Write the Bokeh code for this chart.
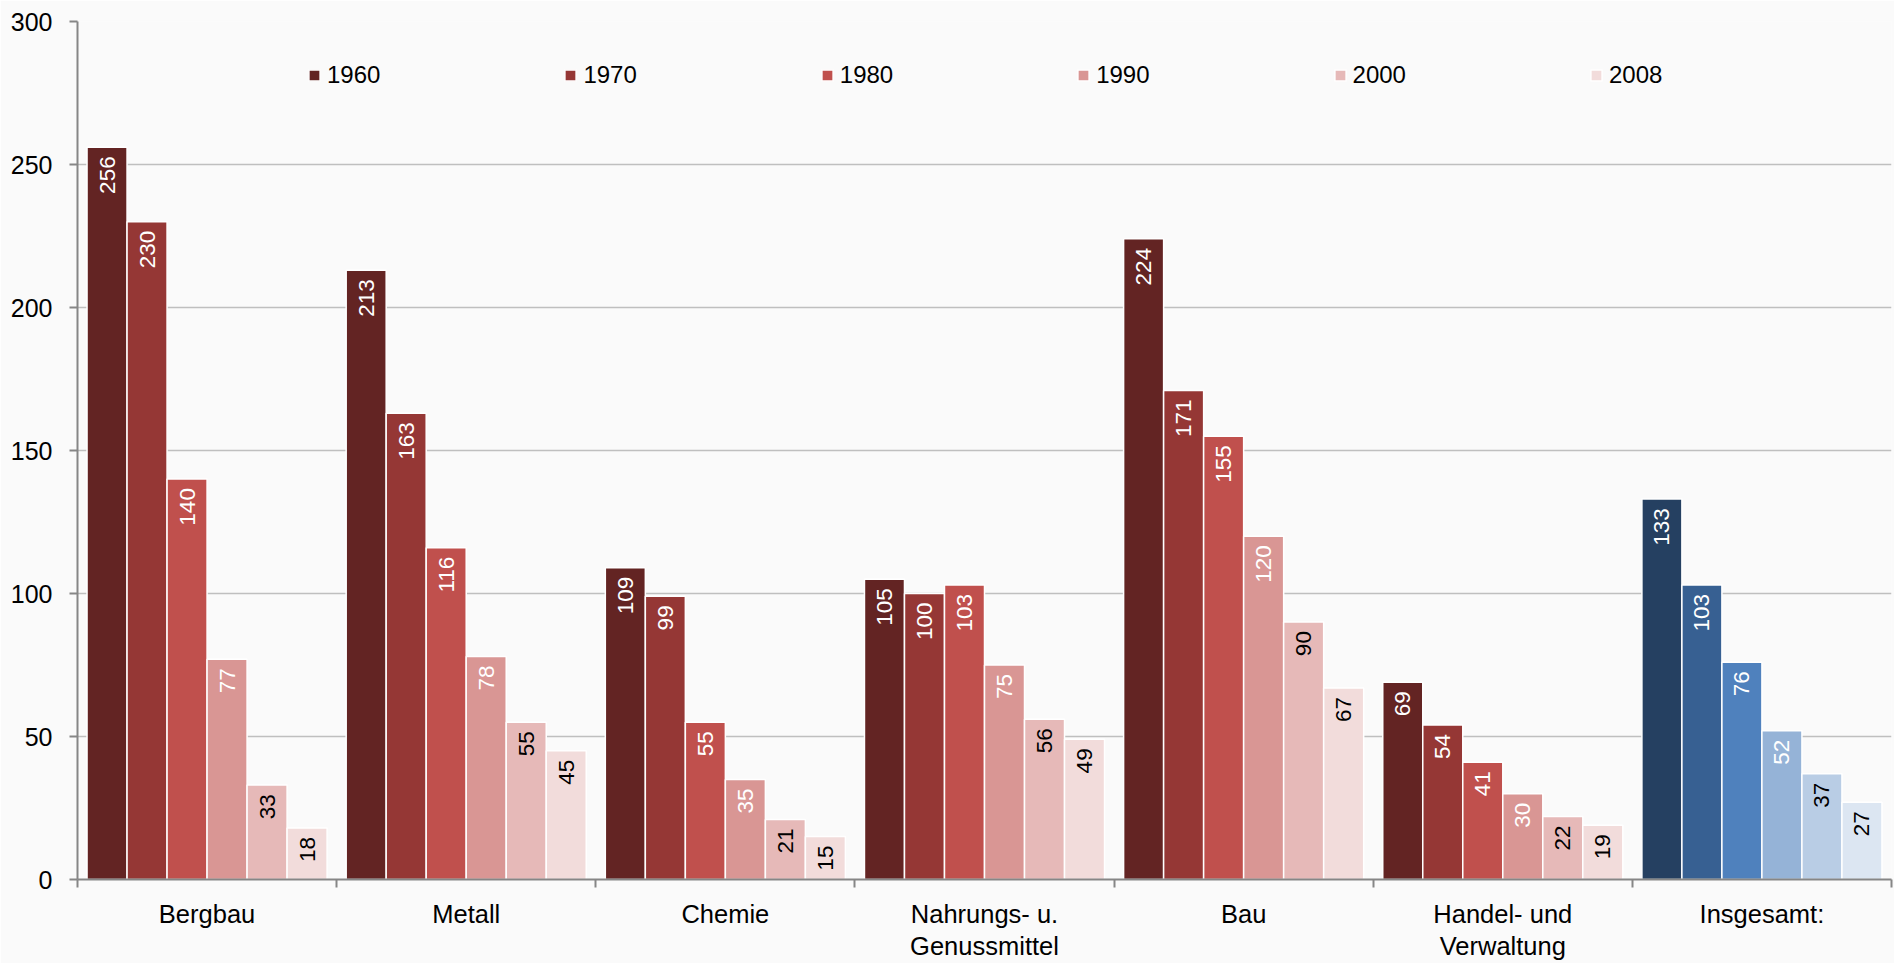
import numpy as np
from bokeh.plotting import figure
from bokeh.models import ColumnDataSource, Range1d, FixedTicker, Legend, LegendItem
from bokeh.core.properties import value
from bokeh.embed import file_html
from bokeh.resources import INLINE

categories = ["Bergbau", "Metall", "Chemie", "Nahrungs- u.\nGenussmittel", "Bau",
              "Handel- und\nVerwaltung", "Insgesamt:"]
years = ["1960", "1970", "1980", "1990", "2000", "2008"]
v1960 = [256, 213, 109, 105, 224, 69, 133]
v1970 = [230, 163, 99, 100, 171, 54, 103]
v1980 = [140, 116, 55, 103, 155, 41, 76]
v1990 = [77, 78, 35, 75, 120, 30, 52]
v2000 = [33, 55, 21, 56, 90, 22, 37]
v2008 = [18, 45, 15, 49, 67, 19, 27]
y_ticks = [0, 50, 100, 150, 200, 250, 300]

series = [v1960, v1970, v1980, v1990, v2000, v2008]
red_colors = ["#632423", "#953735", "#C0504D", "#D99694", "#E6B9B8", "#F2DCDB"]
blue_colors = ["#254061", "#376092", "#4F81BD", "#95B3D7", "#B9CDE5", "#DCE6F2"]
label_colors = ["white", "white", "white", "white", "black", "black"]

FONT = "Liberation Sans"
BG = "#FAFAFA"
AX = "#868686"

p = figure(width=1894, height=963, output_backend="svg", toolbar_location=None,
           x_range=Range1d(0, len(categories)), y_range=Range1d(0, 300),
           min_border_left=77, min_border_right=3, min_border_top=21, min_border_bottom=84,
           background_fill_color=BG, border_fill_color=BG, outline_line_color=None)

n_years = len(years)
bw = 0.1544
items = []
for j, (yr, vals) in enumerate(zip(years, series)):
    xs = [i + 0.5 + (j - (n_years - 1) / 2) * bw for i in range(len(categories))]
    cols = [blue_colors[j] if c == "Insgesamt:" else red_colors[j] for c in categories]
    src = ColumnDataSource(dict(x=xs, top=vals, color=cols, label=[str(v) for v in vals]))
    r = p.vbar(x="x", top="top", width=bw, bottom=0, source=src, fill_color="color",
               line_color="white", line_width=1.5)
    p.text(x="x", y="top", text="label", source=src, angle=np.pi / 2, text_align="right",
           text_baseline="middle", y_offset=9, text_font=value(FONT), text_font_size="22.5px",
           text_color=label_colors[j])
    items.append(LegendItem(label=yr, renderers=[r]))

legend = Legend(items=items, orientation="horizontal", location=(230, 790),
                glyph_width=14, glyph_height=14, label_standoff=6, spacing=183,
                padding=0, margin=0, border_line_color=None, background_fill_alpha=0,
                label_text_font=FONT, label_text_font_size="24px", label_text_color="black")
p.add_layout(legend)

# y axis
p.yaxis.ticker = FixedTicker(ticks=y_ticks)
p.yaxis.axis_line_color = AX
p.yaxis.axis_line_width = 2
p.yaxis.major_tick_line_color = AX
p.yaxis.major_tick_line_width = 2
p.yaxis.major_tick_out = 8
p.yaxis.major_tick_in = 0
p.yaxis.minor_tick_line_color = None
p.yaxis.major_label_standoff = 17
p.yaxis.major_label_text_font = FONT
p.yaxis.major_label_text_font_size = "25px"
p.yaxis.major_label_text_color = "black"

# x axis
p.xaxis.ticker = FixedTicker(ticks=[i + 0.5 for i in range(len(categories))],
                             minor_ticks=list(range(len(categories) + 1)))
p.xaxis.major_label_overrides = {i + 0.5: c for i, c in enumerate(categories)}
p.xaxis.axis_line_color = AX
p.xaxis.axis_line_width = 2
p.xaxis.major_tick_line_color = None
p.xaxis.major_tick_out = 0
p.xaxis.major_tick_in = 0
p.xaxis.minor_tick_line_color = AX
p.xaxis.minor_tick_line_width = 2
p.xaxis.minor_tick_out = 8
p.xaxis.minor_tick_in = 0
p.xaxis.major_label_standoff = 12
p.xaxis.major_label_text_font = FONT
p.xaxis.major_label_text_font_size = "25.5px"
p.xaxis.major_label_text_color = "black"
p.xaxis.major_label_text_line_height = 1.15

p.xgrid.visible = False
p.ygrid.grid_line_color = "#BFBFBF"
p.ygrid.grid_line_width = 1.5

open("out.html", "w").write(file_html(p, INLINE))
